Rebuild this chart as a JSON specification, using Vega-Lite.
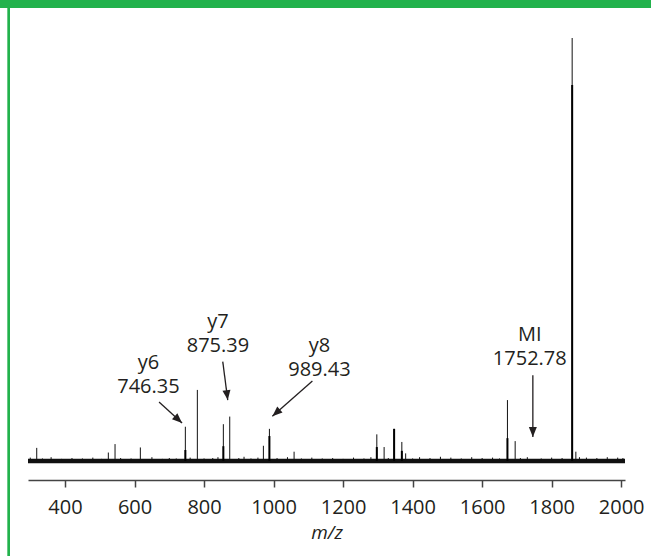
{
  "$schema": "https://vega.github.io/schema/vega-lite/v6.json",
  "width": 597,
  "height": 423,
  "autosize": {"type": "none"},
  "padding": {"left": 28, "top": 38, "right": 26, "bottom": 95},
  "background": "white",
  "config": {
    "view": {"stroke": null},
    "font": "Open Sans",
    "axis": {
      "offset": 19, "grid": false, "labelFlush": false, "format": "d",
      "titleFont": "Open Sans", "labelFont": "Open Sans",
      "titleFontStyle": "italic", "titleFontWeight": "normal",
      "titleFontSize": 19, "titleColor": "#231f20", "titlePadding": 6,
      "labelFontSize": 20, "labelColor": "#231f20", "labelPadding": 10,
      "domainColor": "#444444", "domainWidth": 1.5,
      "tickColor": "#444444", "tickWidth": 1.5, "tickSize": 7
    }
  },
  "datasets": {
    "frame": [
      {"part": "left", "x1": 234.0, "x2": 241.7, "y1": -23, "y2": 110},
      {"part": "top", "x1": 200, "x2": 2100, "y1": 107.1, "y2": 110}
    ],
    "base": [{"mz0": 293.5, "mz1": 2011, "int": 0}],
    "peaks": [
      {"mz": 318.6, "int": 3.1}, {"mz": 524.6, "int": 2.0}, {"mz": 543.9, "int": 4.0},
      {"mz": 616.7, "int": 3.2}, {"mz": 746.2, "int": 8.1}, {"mz": 780.7, "int": 16.8},
      {"mz": 855.5, "int": 8.7}, {"mz": 873.9, "int": 10.5}, {"mz": 970.7, "int": 3.6},
      {"mz": 988.0, "int": 7.6}, {"mz": 1059, "int": 2.2}, {"mz": 1297, "int": 6.3},
      {"mz": 1318, "int": 3.3}, {"mz": 1346.8, "int": 7.6}, {"mz": 1369, "int": 4.5},
      {"mz": 1380, "int": 1.8}, {"mz": 1672.8, "int": 14.4}, {"mz": 1695, "int": 4.7},
      {"mz": 1859, "int": 100}, {"mz": 1869.6, "int": 2.2},
      {"mz": 300, "int": 0.8}, {"mz": 335, "int": 0.6}, {"mz": 360, "int": 0.9}, {"mz": 390, "int": 0.5},
      {"mz": 420, "int": 0.7}, {"mz": 450, "int": 0.6}, {"mz": 480, "int": 0.8}, {"mz": 505, "int": 0.5},
      {"mz": 560, "int": 0.7}, {"mz": 590, "int": 0.6}, {"mz": 650, "int": 0.9}, {"mz": 680, "int": 0.5},
      {"mz": 700, "int": 0.7}, {"mz": 720, "int": 0.6}, {"mz": 760, "int": 0.8}, {"mz": 800, "int": 0.6},
      {"mz": 825, "int": 0.7}, {"mz": 840, "int": 0.9}, {"mz": 900, "int": 0.7}, {"mz": 915, "int": 1.0},
      {"mz": 935, "int": 0.6}, {"mz": 955, "int": 0.8}, {"mz": 1010, "int": 0.7}, {"mz": 1040, "int": 0.9},
      {"mz": 1080, "int": 0.6}, {"mz": 1110, "int": 0.8}, {"mz": 1140, "int": 0.6}, {"mz": 1170, "int": 0.7},
      {"mz": 1200, "int": 0.5}, {"mz": 1230, "int": 0.8}, {"mz": 1260, "int": 0.6}, {"mz": 1280, "int": 0.9},
      {"mz": 1330, "int": 0.7}, {"mz": 1400, "int": 0.6}, {"mz": 1420, "int": 0.9}, {"mz": 1450, "int": 0.7},
      {"mz": 1480, "int": 1.0}, {"mz": 1510, "int": 0.8}, {"mz": 1540, "int": 0.6}, {"mz": 1570, "int": 0.9},
      {"mz": 1600, "int": 0.7}, {"mz": 1630, "int": 0.8}, {"mz": 1650, "int": 0.6}, {"mz": 1710, "int": 0.7},
      {"mz": 1730, "int": 0.9}, {"mz": 1770, "int": 0.6}, {"mz": 1800, "int": 0.8}, {"mz": 1830, "int": 0.7},
      {"mz": 1880, "int": 0.9}, {"mz": 1900, "int": 0.8}, {"mz": 1930, "int": 0.7}, {"mz": 1960, "int": 0.9},
      {"mz": 1990, "int": 0.8}, {"mz": 2005, "int": 0.7}
    ],
    "cores": [
      {"mz": 746.2, "int": 2.6}, {"mz": 855.5, "int": 3.5}, {"mz": 988.0, "int": 5.9},
      {"mz": 1297, "int": 3.3}, {"mz": 1346.8, "int": 7.6}, {"mz": 1369, "int": 2.4},
      {"mz": 1672.8, "int": 5.4}, {"mz": 1859, "int": 88.9}
    ],
    "arrows": [
      {"ion": "y6", "from_mz": 670.5, "from_int": 13.95, "to_mz": 736.7, "to_int": 8.98},
      {"ion": "y7", "from_mz": 853.8, "from_int": 23.5, "to_mz": 868.2, "to_int": 14.4},
      {"ion": "y8", "from_mz": 1111.7, "from_int": 18.9, "to_mz": 996.5, "to_int": 10.6},
      {"ion": "MI", "from_mz": 1745.9, "from_int": 20.3, "to_mz": 1745.9, "to_int": 5.7}
    ],
    "labels": [
      {"text": "y6\n746.35", "mz": 640, "int": 21.7},
      {"text": "y7\n875.39", "mz": 840, "int": 31.4},
      {"text": "y8\n989.43", "mz": 1132, "int": 25.8},
      {"text": "MI\n1752.78", "mz": 1737, "int": 28.4}
    ]
  },
  "layer": [
    {
      "data": {"name": "frame"},
      "mark": {"type": "rect", "color": "#22b24c", "clip": false},
      "encoding": {
        "x": {"field": "x1", "type": "quantitative", "scale": {"domain": [293.5, 2011], "nice": false, "zero": false}, "axis": {"title": "m/z", "format": "d", "labelFontSize": 20, "titleFontSize": 19, "values": [400, 600, 800, 1000, 1200, 1400, 1600, 1800, 2000]}},
        "x2": {"field": "x2"},
        "y": {"field": "y1", "type": "quantitative", "scale": {"domain": [0, 100], "nice": false, "zero": false}, "axis": null},
        "y2": {"field": "y2"}
      }
    },
    {
      "data": {"name": "base"},
      "mark": {"type": "rule", "color": "#111111", "strokeWidth": 4.5},
      "encoding": {
        "x": {"field": "mz0", "type": "quantitative", "scale": {"domain": [293.5, 2011], "nice": false, "zero": false}, "axis": {"title": "m/z", "format": "d", "labelFontSize": 20, "titleFontSize": 19, "values": [400, 600, 800, 1000, 1200, 1400, 1600, 1800, 2000]}},
        "x2": {"field": "mz1"},
        "y": {"field": "int", "type": "quantitative", "scale": {"domain": [0, 100], "nice": false, "zero": false}, "axis": null}
      }
    },
    {
      "data": {"name": "peaks"},
      "mark": {"type": "rule", "color": "#111111", "strokeWidth": 1},
      "encoding": {
        "x": {"field": "mz", "type": "quantitative", "scale": {"domain": [293.5, 2011], "nice": false, "zero": false}, "axis": {"title": "m/z", "format": "d", "labelFontSize": 20, "titleFontSize": 19, "values": [400, 600, 800, 1000, 1200, 1400, 1600, 1800, 2000]}},
        "y": {"field": "int", "type": "quantitative", "scale": {"domain": [0, 100], "nice": false, "zero": false}, "axis": null},
        "y2": {"datum": 0}
      }
    },
    {
      "data": {"name": "cores"},
      "mark": {"type": "rule", "color": "#000000", "strokeWidth": 2},
      "encoding": {
        "x": {"field": "mz", "type": "quantitative", "scale": {"domain": [293.5, 2011], "nice": false, "zero": false}, "axis": {"title": "m/z", "format": "d", "labelFontSize": 20, "titleFontSize": 19, "values": [400, 600, 800, 1000, 1200, 1400, 1600, 1800, 2000]}},
        "y": {"field": "int", "type": "quantitative", "scale": {"domain": [0, 100], "nice": false, "zero": false}, "axis": null},
        "y2": {"datum": 0}
      }
    },
    {
      "data": {"name": "arrows"},
      "mark": {"type": "rule", "color": "#231f20", "strokeWidth": 1.3},
      "encoding": {
        "x": {"field": "from_mz", "type": "quantitative", "scale": {"domain": [293.5, 2011], "nice": false, "zero": false}, "axis": {"title": "m/z", "format": "d", "labelFontSize": 20, "titleFontSize": 19, "values": [400, 600, 800, 1000, 1200, 1400, 1600, 1800, 2000]}},
        "y": {"field": "from_int", "type": "quantitative", "scale": {"domain": [0, 100], "nice": false, "zero": false}, "axis": null},
        "x2": {"field": "to_mz"},
        "y2": {"field": "to_int"}
      }
    },
    {
      "data": {"name": "arrows"},
      "transform": [{"filter": "datum.ion === 'y6'"}],
      "mark": {"type": "point", "shape": "M0,0L0.4,1L-0.4,1Z", "filled": true, "opacity": 1, "size": 400, "color": "#231f20", "angle": 132.4},
      "encoding": {
        "x": {"field": "to_mz", "type": "quantitative", "scale": {"domain": [293.5, 2011], "nice": false, "zero": false}, "axis": {"title": "m/z", "format": "d", "labelFontSize": 20, "titleFontSize": 19, "values": [400, 600, 800, 1000, 1200, 1400, 1600, 1800, 2000]}},
        "y": {"field": "to_int", "type": "quantitative", "scale": {"domain": [0, 100], "nice": false, "zero": false}, "axis": null}
      }
    },
    {
      "data": {"name": "arrows"},
      "transform": [{"filter": "datum.ion === 'y7'"}],
      "mark": {"type": "point", "shape": "M0,0L0.4,1L-0.4,1Z", "filled": true, "opacity": 1, "size": 400, "color": "#231f20", "angle": 172.5},
      "encoding": {
        "x": {"field": "to_mz", "type": "quantitative", "scale": {"domain": [293.5, 2011], "nice": false, "zero": false}, "axis": {"title": "m/z", "format": "d", "labelFontSize": 20, "titleFontSize": 19, "values": [400, 600, 800, 1000, 1200, 1400, 1600, 1800, 2000]}},
        "y": {"field": "to_int", "type": "quantitative", "scale": {"domain": [0, 100], "nice": false, "zero": false}, "axis": null}
      }
    },
    {
      "data": {"name": "arrows"},
      "transform": [{"filter": "datum.ion === 'y8'"}],
      "mark": {"type": "point", "shape": "M0,0L0.4,1L-0.4,1Z", "filled": true, "opacity": 1, "size": 400, "color": "#231f20", "angle": 228.8},
      "encoding": {
        "x": {"field": "to_mz", "type": "quantitative", "scale": {"domain": [293.5, 2011], "nice": false, "zero": false}, "axis": {"title": "m/z", "format": "d", "labelFontSize": 20, "titleFontSize": 19, "values": [400, 600, 800, 1000, 1200, 1400, 1600, 1800, 2000]}},
        "y": {"field": "to_int", "type": "quantitative", "scale": {"domain": [0, 100], "nice": false, "zero": false}, "axis": null}
      }
    },
    {
      "data": {"name": "arrows"},
      "transform": [{"filter": "datum.ion === 'MI'"}],
      "mark": {"type": "point", "shape": "M0,0L0.4,1L-0.4,1Z", "filled": true, "opacity": 1, "size": 400, "color": "#231f20", "angle": 180},
      "encoding": {
        "x": {"field": "to_mz", "type": "quantitative", "scale": {"domain": [293.5, 2011], "nice": false, "zero": false}, "axis": {"title": "m/z", "format": "d", "labelFontSize": 20, "titleFontSize": 19, "values": [400, 600, 800, 1000, 1200, 1400, 1600, 1800, 2000]}},
        "y": {"field": "to_int", "type": "quantitative", "scale": {"domain": [0, 100], "nice": false, "zero": false}, "axis": null}
      }
    },
    {
      "data": {"name": "labels"},
      "mark": {"type": "text", "font": "Open Sans", "fontSize": 20, "color": "#231f20", "align": "center", "baseline": "alphabetic", "lineBreak": "\n", "lineHeight": 24},
      "encoding": {
        "x": {"field": "mz", "type": "quantitative", "scale": {"domain": [293.5, 2011], "nice": false, "zero": false}, "axis": {"title": "m/z", "format": "d", "labelFontSize": 20, "titleFontSize": 19, "values": [400, 600, 800, 1000, 1200, 1400, 1600, 1800, 2000]}},
        "y": {"field": "int", "type": "quantitative", "scale": {"domain": [0, 100], "nice": false, "zero": false}, "axis": null},
        "text": {"field": "text"}
      }
    }
  ]
}
